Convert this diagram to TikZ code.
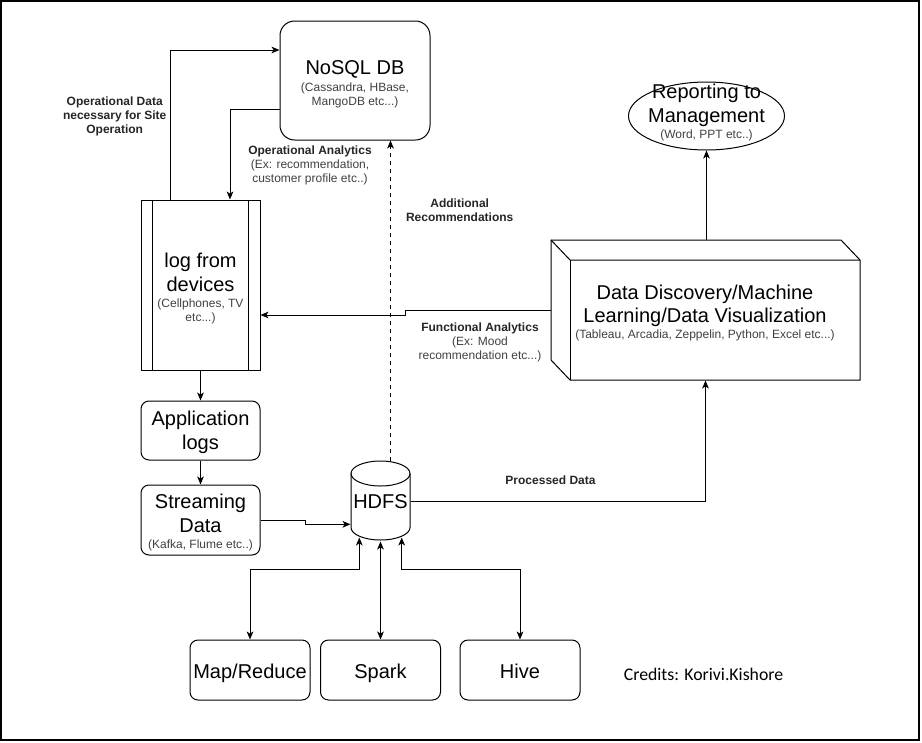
\documentclass[tikz,border=0pt]{standalone}
\usepackage{fontspec}
\setmainfont{Liberation Sans}
\newfontfamily\credfont{Carlito}
\usetikzlibrary{arrows.meta,calc,shapes.geometric}
\begin{document}
\begin{tikzpicture}[x=0.75pt,y=-0.75pt,line width=0.75pt,
  tip/.tip={Stealth[length=6pt,width=5pt,inset=1.6pt]},
  arr/.style={-tip},
  darr/.style={tip-tip},
  rbox/.style={draw,fill=white,rounded corners=6pt,inner sep=0pt,minimum width=89.25pt},
  big/.style={font=\fontsize{15}{18}\selectfont,anchor=base,inner sep=0pt},
  small/.style={font=\fontsize{9}{10.5}\selectfont,anchor=base,inner sep=0pt,text=black!75},
  lab/.style={font=\fontsize{9}{10.5}\selectfont\bfseries,anchor=base,inner sep=0pt,text=black!85},
]
\useasboundingbox (0,0) rectangle (922,743);
\draw[line width=1.5pt] (1,1) rectangle (918.5,740);

% NoSQL DB
\node[draw,rounded corners=11pt,inner sep=0pt,minimum width=112.5pt,minimum height=89.25pt] (nosql) at (355,80.5) {};
\node[big] (nosqlA) at (355,74) {NoSQL DB};
\node[small] (nosqlB) at (355,91) {(Cassandra, HBase,};
\node[small] (nosqlC) at (355,105) {MangoDB etc...)};

% log from devices
\node[draw,inner sep=0pt,minimum width=89.25pt,minimum height=127.5pt] (log) at (200.5,285) {};
\draw ($(log.north west)+(11.7,0)$) -- ($(log.south west)+(11.7,0)$);
\draw ($(log.north east)+(-11.7,0)$) -- ($(log.south east)+(-11.7,0)$);
\node[big] (logA) at (200.5,267) {log from};
\node[big] (logB) at (200.5,291) {devices};
\node[small] (logC) at (200.5,307) {(Cellphones, TV};
\node[small] (logD) at (200.5,321) {etc...)};

% Application logs
\node[rbox,minimum height=44.25pt] (app) at (200.5,430.5) {};
\node[big] (appA) at (200.5,425) {Application};
\node[big] (appB) at (200.5,449) {logs};

% Streaming Data
\node[rbox,minimum height=52.5pt] (stream) at (200.5,520) {};
\node[big] (streamA) at (200.5,508) {Streaming};
\node[big] (streamB) at (200.5,532) {Data};
\node[small] (streamC) at (200.5,548) {(Kafka, Flume etc..)};

% HDFS cylinder
\node[inner sep=0pt,minimum width=44.25pt,minimum height=60pt] (hdfs) at (380.5,501) {};
\draw[fill=white] (351,473.5) -- (351,527.5) arc[start angle=180,end angle=360,x radius=22.125pt,y radius=9.375pt] -- (410,473.5);
\draw (380.5,473.5) ellipse [x radius=22.125pt,y radius=9.375pt];
\node[big] (hdfsA) at (380.5,508) {HDFS};

% Processing engines
\node[rbox,minimum width=90pt,minimum height=45pt] (mr) at (250,670) {};
\node[big] (mrA) at (250,678) {Map/Reduce};
\node[rbox,minimum width=90pt,minimum height=45pt] (spark) at (380.5,670) {};
\node[big] (sparkA) at (380.5,678) {Spark};
\node[rbox,minimum width=90pt,minimum height=45pt] (hive) at (520,670) {};
\node[big] (hiveA) at (520,678) {Hive};

% Reporting
\node[draw,ellipse,inner sep=0pt,minimum width=117pt,minimum height=51pt] (rep) at (706.5,116) {};
\node[big] (repA) at (706.5,98.3) {Reporting to};
\node[big] (repB) at (706.5,122.3) {Management};
\node[small] (repC) at (706.5,138.3) {(Word, PPT etc..)};

% Data discovery cube
\node[inner sep=0pt,minimum width=231.75pt,minimum height=105pt] (cube) at (705.5,310) {};
\draw[fill=white] (551,240) -- (841,240) -- (860,260) -- (860,380) -- (570,380) -- (551,360) -- cycle;
\draw (551,240) -- (570,260) -- (860,260);
\draw (570,260) -- (570,380);
\node[big] (cubeA) at (705,299) {Data Discovery/Machine};
\node[big] (cubeB) at (705,322.3) {Learning/Data Visualization};
\node[small] (cubeC) at (705,338.3) {(Tableau, Arcadia, Zeppelin, Python, Excel etc...)};

% Connectors
\draw[arr] ($(log.north west)+(30,0)$) |- ($(nosql.north west)+(0,29.5)$);
\draw[arr] ($(nosql.north west)+(0,89.3)$) -| ($(log.north west)+(89.5,0)$);
\coordinate (hdfsTop) at ($(hdfs.north)+(10,0)$);
\draw[arr,dashed] (hdfsTop) -- (hdfsTop |- nosql.south);
\draw[arr] (cube.west) -| (405,315) -- ($(log.east)+(0,30)$);
\draw[arr] (log.south) -- (app.north);
\draw[arr] (app.south) -- (stream.north);
\draw[arr] (stream.east) -| (305,524.3) -- ($(hdfs.west)+(0,23.3)$);
\draw[arr] (hdfs.east) -| (cube.south);
\draw[darr] ($(hdfs.south)+(-21.2,-4)$) |- ($(mr.north)+(0,-69.7)$) -- (mr.north);
\draw[darr] (hdfs.south) -- (spark.north);
\draw[darr] ($(hdfs.south)+(21.2,-4)$) |- ($(hive.north)+(0,-69.7)$) -- (hive.north);
\draw[arr] (cube.north -| rep.south) -- (rep.south);

% Labels
\node[lab] (odsA) at (114.7,105.5) {Operational Data};
\node[lab] (odsB) at (114.7,119.5) {necessary for Site};
\node[lab] (odsC) at (114.7,133.5) {Operation};
\node[lab] (oaA) at (310,154) {Operational Analytics};
\node[small] (oaB) at (310,168) {(Ex: recommendation,};
\node[small] (oaC) at (310,182) {customer profile etc..)};
\node[lab] (arA) at (459.7,207) {Additional};
\node[lab] (arB) at (459.7,221) {Recommendations};
\node[lab] (faA) at (480,331) {Functional Analytics};
\node[small] (faB) at (480,345) {(Ex: Mood};
\node[small] (faC) at (480,359) {recommendation etc...)};
\node[lab] (pdA) at (550.5,484.7) {Processed Data};
\node[anchor=base,inner sep=0pt,font=\credfont\fontsize{13.3}{16}\selectfont] (credits) at (703.5,680) {Credits: Korivi.Kishore};
\end{tikzpicture}
\end{document}
